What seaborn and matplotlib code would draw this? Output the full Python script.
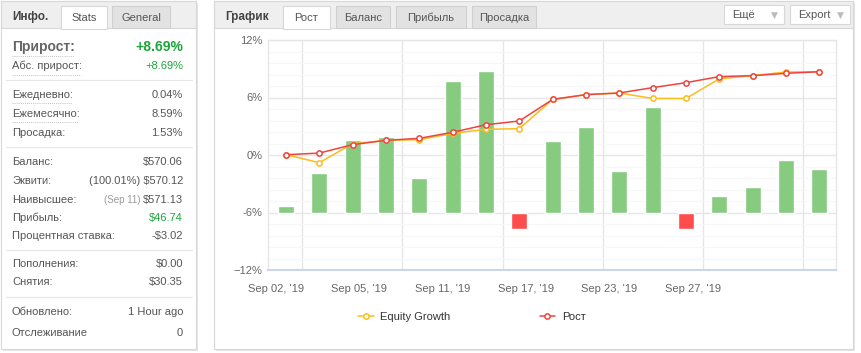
import numpy as np
import pandas as pd
import matplotlib
matplotlib.use("Agg")
from matplotlib import pyplot as plt
from matplotlib.patches import Rectangle
from matplotlib.lines import Line2D
import seaborn as sns

# Data
day_idx = list(range(17))
growth = [0.03, 0.2, 1.08, 1.53, 1.74, 2.37, 3.16, 3.55, 5.8, 6.3, 6.47, 7.03, 7.55, 8.18, 8.28, 8.52, 8.69]
equity = [0.03, -0.8, 1.18, 1.53, 1.6, 2.26, 2.68, 2.75, 5.8, 6.3, 6.47, 5.9, 5.9, 7.95, 8.28, 8.66, 8.69]
daily = [0.73, 4.07, 7.52, 7.93, 3.55, 13.7, 14.8, -1.67, 7.41, 8.87, 4.28, 10.96, -1.67, 1.67, 2.71, 5.43, 4.59]
tick_labels = ["Sep 02, '19", "Sep 05, '19", "Sep 11, '19", "Sep 17, '19", "Sep 23, '19", "Sep 27, '19"]

stats_rows = [
    ("Ежедневно:", "0.04%", 95),
    ("Ежемесячно:", "8.59%", 114),
    ("Просадка:", "1.53%", 133),
    ("Баланс:", "$570.06", 162),
    ("Процентная ставка:", "-$3.02", 236),
    ("Пополнения:", "$0.00", 264),
    ("Снятия:", "$30.35", 282),
    ("Обновлено:", "1 Hour ago", 312),
    ("Отслеживание", "0", 333),
]

sns.set_style("white")
plt.rcParams["font.family"] = ["Liberation Sans", "DejaVu Sans"]

W, H = 861, 353
fig = plt.figure(figsize=(W / 100, H / 100), dpi=100)
fig.patch.set_facecolor("white")

GRAY = "#555555"
GREEN = "#1aa53a"


def box(x0, y0, x1, y1, fc, ec="none", lw=0.8, z=-5):
    fig.add_artist(Rectangle((x0 / W, 1 - y1 / H), (x1 - x0) / W, (y1 - y0) / H,
                             transform=fig.transFigure, fc=fc, ec=ec, lw=lw, zorder=z))


def txt(x, y, s, **kw):
    kw.setdefault("color", GRAY)
    kw.setdefault("fontsize", 8)
    fig.text(x / W, 1 - y / H, s, va="center", **kw)


def hline(x0, x1, y, color="#e6e6e6", ls="-", lw=0.8):
    fig.add_artist(Line2D([x0 / W, x1 / W], [1 - y / H, 1 - y / H], transform=fig.transFigure,
                          color=color, ls=ls, lw=lw, zorder=2))


# ---- panels ----
for (x0, x1) in [(1, 196), (214, 853)]:
    box(x0 + 2, 3, x1 + 2, 351, "#e4e4e4", z=-7)
    box(x0, 1, x1, 349, "white", ec="#d8d8d8", z=-6)
    box(x0, 1, x1, 28, "#efefef", ec="#d8d8d8", z=-5)

# left header
txt(12, 17, "Инфо.", fontweight="bold", fontsize=8.5, color="#444444")
box(61, 6, 107, 28.5, "white", ec="#d8d8d8", z=-4)
txt(84, 18, "Stats", ha="center")
box(112, 6, 170, 28, "#e2e2e2", ec="#d0d0d0", z=-4)
txt(141, 18, "General", ha="center")

# left stats
txt(12, 47, "Прирост:", fontweight="bold", fontsize=10, color="#666666")
txt(183, 47, "+8.69%", fontweight="bold", fontsize=10, color=GREEN, ha="right")
hline(12, 74, 56, color="#aaaaaa", ls=(0, (1, 1.5)), lw=0.6)
txt(12, 66, "Абс. прирост:")
txt(183, 66, "+8.69%", color=GREEN, ha="right")
hline(12, 81, 75, color="#aaaaaa", ls=(0, (1, 1.5)), lw=0.6)
hline(6, 192, 80)
for lab, val, y in stats_rows:
    txt(12, y, lab)
    txt(183, y, val, ha="right")
hline(12, 72, 103, color="#aaaaaa", ls=(0, (1, 1.5)), lw=0.6)
hline(12, 78, 122, color="#aaaaaa", ls=(0, (1, 1.5)), lw=0.6)
hline(6, 192, 147)
txt(12, 181, "Эквити:")
txt(183, 181, "(100.01%) $570.12", ha="right")
txt(12, 200, "Наивысшее:")
txt(183, 200, "$571.13", ha="right")
txt(140, 200, "(Sep 11)", ha="right", color="#999999", fontsize=7)
txt(12, 218, "Прибыль:")
txt(183, 218, "$46.74", color=GREEN, ha="right")
hline(6, 192, 250)
hline(6, 192, 297)

# right header
txt(225, 17, "График", fontweight="bold", fontsize=8.5, color="#444444")
box(283, 6, 330, 28.5, "white", ec="#d8d8d8", z=-4)
txt(306, 18, "Рост", ha="center")
for (x0, x1, lab) in [(336, 390, "Баланс"), (396, 466, "Прибыль"), (472, 536, "Просадка")]:
    box(x0, 6, x1, 28, "#e2e2e2", ec="#d0d0d0", z=-4)
    txt((x0 + x1) / 2, 18, lab, ha="center")
for (x0, x1, lab) in [(724, 784, "Ещё"), (790, 850, "Export")]:
    box(x0, 5, x1, 24, "white", ec="#d8d8d8", z=-4)
    txt(x0 + 8, 15, lab)
    txt(x1 - 6, 15, "▼", ha="right", color="#bbbbbb", fontsize=6.5, family="DejaVu Sans")

# ---- chart ----
ax = fig.add_axes([268 / W, 1 - 270 / H, (836 - 268) / W, (270 - 40) / H])
df = pd.DataFrame({"day": day_idx, "daily": daily,
                   "sign": ["pos" if v >= 0 else "neg" for v in daily]})
sns.barplot(data=df, x="day", y="daily", hue="sign", palette={"pos": "#86cb80", "neg": "#ff4c4c"},
            width=0.48, saturation=1, legend=False, ax=ax)
ax.set_ylim(-6, 18)
ax.set_yticks([-6, 0, 6, 12, 18])
ax.set_yticks(np.arange(-6, 18.01, 1.2), minor=True)
ax.set_yticklabels([])
ax.tick_params(axis="y", which="both", length=0)
ax.set_xlim(-0.54, 16.5)
ax.set_xticks([-0.3, 2.2, 4.7, 7.2, 9.7, 12.2])
ax.set_xticklabels(tick_labels, color="#666666", fontsize=8)
ax.set_xticks([0.47, 3.47, 6.5, 9.5, 12.5, 15.5], minor=True)
ax.tick_params(axis="x", which="both", length=0, pad=10)
ax.grid(False)
ax.grid(True, axis="y", which="minor", color="#f7f7f7", lw=0.8)
ax.grid(True, axis="y", which="major", color="#e6e6e6", lw=1)
ax.grid(True, axis="x", which="minor", color="#e6e6e6", lw=1)
ax.set_axisbelow(True)
ax.set_xlabel("")
ax.set_ylabel("")
for s in ["top", "left", "right"]:
    ax.spines[s].set_color("#e6e6e6")
    ax.spines[s].set_linewidth(1)
ax.spines["bottom"].set_color("#ccd6eb")
ax.spines["bottom"].set_linewidth(1.5)

ax2 = ax.twinx()
sns.lineplot(x=day_idx, y=equity, ax=ax2, color="#fbbd1c", lw=1.1, marker="o", markersize=3.8,
             markerfacecolor="white", markeredgecolor="#fbbd1c", markeredgewidth=1.1,
             label="Equity Growth")
sns.lineplot(x=day_idx, y=growth, ax=ax2, color="#ee4440", lw=1.1, marker="o", markersize=3.8,
             markerfacecolor="white", markeredgecolor="#ee4440", markeredgewidth=1.1,
             label="Рост")
ax2.set_ylim(-12, 12)
ax2.set_yticks([-12, -6, 0, 6, 12])
ax2.set_yticklabels(["−12%", "-6%", "0%", "6%", "12%"], color="#666666", fontsize=8)
ax2.yaxis.tick_left()
ax2.tick_params(axis="y", length=0, pad=4)
ax2.set_xlim(-0.54, 16.5)
for s in ax2.spines.values():
    s.set_visible(False)
ax2.legend(loc="center", bbox_to_anchor=(472 / W, 1 - 317 / H), bbox_transform=fig.transFigure,
           ncol=2, frameon=False, fontsize=8, handlelength=1.4, handletextpad=0.6,
           columnspacing=8.0, labelcolor="#333333")

fig.savefig("out.png", dpi=100)
